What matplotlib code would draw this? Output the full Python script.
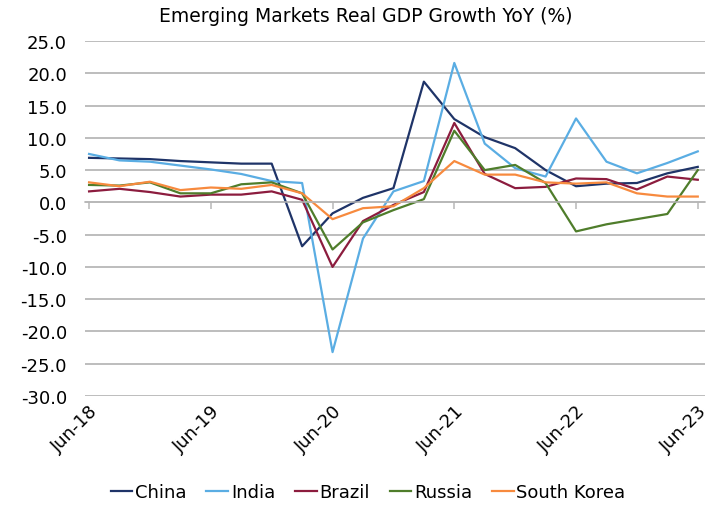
import numpy as np
from matplotlib import pyplot as plt

# quarterly, Jun-18 .. Jun-23
months = np.arange(0, 61, 3)
tick_labels = ['Jun-18', 'Jun-19', 'Jun-20', 'Jun-21', 'Jun-22', 'Jun-23']

china = [6.9, 6.8, 6.7, 6.4, 6.2, 6.0, 6.0, -6.8, -1.7, 0.7, 2.2, 18.7,
         12.9, 10.1, 8.4, 5.0, 2.5, 2.9, 3.0, 4.5, 5.5]
india = [7.5, 6.5, 6.3, 5.7, 5.1, 4.4, 3.3, 3.0, -23.2, -5.6, 1.7, 3.3,
         21.6, 9.1, 5.3, 4.0, 13.0, 6.3, 4.5, 6.1, 7.9]
brazil = [1.7, 2.1, 1.6, 0.9, 1.2, 1.2, 1.7, 0.4, -10.0, -2.9, -0.4, 1.6,
          12.3, 4.4, 2.2, 2.4, 3.7, 3.6, 2.0, 4.0, 3.5]
russia = [2.7, 2.6, 3.1, 1.4, 1.4, 2.8, 3.1, 1.4, -7.3, -3.1, -1.2, 0.5,
          11.1, 5.0, 5.8, 3.0, -4.5, -3.4, -2.6, -1.8, 5.0]
korea = [3.1, 2.5, 3.2, 1.9, 2.3, 2.1, 2.7, 1.4, -2.6, -0.9, -0.6, 2.2,
         6.4, 4.3, 4.3, 3.1, 2.9, 3.1, 1.4, 0.9, 0.9]

series = [('China', china, '#1f3468'),
          ('India', india, '#5aade3'),
          ('Brazil', brazil, '#8c1c3e'),
          ('Russia', russia, '#4f7d2b'),
          ('South Korea', korea, '#f78a3e')]

plt.rcParams['font.family'] = ['DejaVu Sans']

fig = plt.figure(figsize=(7.12, 5.06), dpi=100)
ax = fig.add_axes([0.1194, 0.2154, 0.8706, 0.7016])

for name, vals, col in series:
    ax.plot(months, vals, color=col, lw=1.6, label=name)

ax.set_ylim(-30, 25)
ax.set_yticks(np.arange(-30, 26, 5))
ax.set_yticklabels(['%.1f' % v for v in np.arange(-30, 26, 5)], fontsize=13)
ax.set_xlim(-0.4, 60.7)
ax.tick_params(axis='y', length=0, pad=13)

ax.grid(axis='y', color='#ababab', lw=1.1)
ax.set_axisbelow(True)
for s in ['left', 'right', 'top']:
    ax.spines[s].set_visible(False)

# category axis line crossing at zero, tick marks pointing down
ax.spines['bottom'].set_position(('data', 0))
ax.spines['bottom'].set_color('#b8b8b8')
ax.spines['bottom'].set_linewidth(1.1)
ax.set_xticks(months[::4])
ax.set_xticklabels([])
ax.tick_params(axis='x', direction='out', length=5, color='#b8b8b8', width=1.1)

# labels at the bottom of the plot area
lab = ax.secondary_xaxis('bottom')
lab.set_xticks(months[::4])
lab.set_xticklabels(tick_labels, rotation=45, ha='right', rotation_mode='anchor',
                    fontsize=13)
lab.tick_params(axis='x', length=0, pad=4)
lab.spines['bottom'].set_visible(False)

fig.text(0.514, 0.968, 'Emerging Markets Real GDP Growth YoY (%)', fontsize=13.5,
         ha='center', va='center')

fig.legend(loc='center', bbox_to_anchor=(0.517, 0.026), ncol=5, frameon=False,
           fontsize=13, handlelength=1.2, handletextpad=0.15, columnspacing=1.1)

fig.savefig('out.png', dpi=100)
